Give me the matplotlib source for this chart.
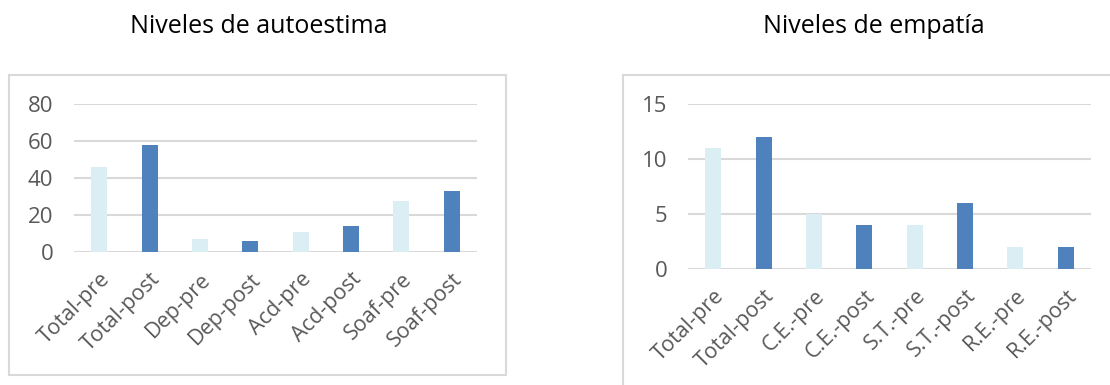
import matplotlib
matplotlib.use("Agg")
import matplotlib.pyplot as plt
from matplotlib.patches import Rectangle

# Data
autoestima_labels = ["Total-pre", "Total-post", "Dep-pre", "Dep-post",
                     "Acd-pre", "Acd-post", "Soaf-pre", "Soaf-post"]
autoestima_values = [46, 58, 7, 6, 11, 14, 28, 33]

empatia_labels = ["Total-pre", "Total-post", "C.E.-pre", "C.E.-post",
                  "S.T.-pre", "S.T.-post", "R.E.-pre", "R.E.-post"]
empatia_values = [11, 12, 5, 4, 4, 6, 2, 2]

autoestima_ticks = [0, 20, 40, 60, 80]
empatia_ticks = [0, 5, 10, 15]

LIGHT = "#DAEEF3"
DARK = "#4F81BD"
GRID = "#D9D9D9"
TEXT = "#595959"

plt.rcParams["font.family"] = ["Open Sans", "DejaVu Sans"]

W, H = 1110, 385
fig = plt.figure(figsize=(W / 100, H / 100), dpi=100)


def px_rect(x0, y0, x1, y1):
    """Convert pixel box (top-left origin) into figure-fraction rect."""
    return [x0 / W, 1 - y1 / H, (x1 - x0) / W, (y1 - y0) / H]


# Chart frames
fig.patches.append(Rectangle((9 / W, 1 - 375 / H), 497 / W, 300 / H,
                             transform=fig.transFigure, fill=False,
                             edgecolor=GRID, linewidth=1.5))
fig.patches.append(Rectangle((623 / W, -0.2), 600 / W, 1.2 - 75 / H,
                             transform=fig.transFigure, fill=False,
                             edgecolor=GRID, linewidth=1.5))


def draw(rect, labels, values, ticks, title, title_x):
    ax = fig.add_axes(rect)
    x = list(range(len(labels)))
    colors = [LIGHT if i % 2 == 0 else DARK for i in x]
    ax.bar(x, values, width=0.32, color=colors, zorder=3)
    ax.set_xlim(-0.5, len(labels) - 0.5)
    ax.set_ylim(ticks[0], ticks[-1])
    ax.set_yticks(ticks)
    ax.set_yticklabels([str(t) for t in ticks], color=TEXT, fontsize=16)
    ax.set_xticks(x)
    ax.set_xticklabels(labels, rotation=45, ha="right",
                       rotation_mode="anchor", color=TEXT, fontsize=15.5)
    ax.tick_params(axis="y", length=0, pad=15)
    ax.tick_params(axis="x", length=0, pad=12)
    for s in ax.spines.values():
        s.set_visible(False)
    ax.grid(axis="y", color=GRID, linewidth=1.5, zorder=0)
    ax.set_axisbelow(True)
    ax.patch.set_alpha(0)
    for t in ax.get_yticklabels() + ax.get_xticklabels():
        t.set_clip_on(False)
    fig.text(title_x / W, 1 - 33 / H, title, ha="center", va="baseline",
             fontsize=18, color="black")
    return ax


draw(px_rect(74, 104.3, 477, 252.3), autoestima_labels, autoestima_values,
     autoestima_ticks, "Niveles de autoestima", 259)
draw(px_rect(688, 104.3, 1091, 268.7), empatia_labels, empatia_values,
     empatia_ticks, "Niveles de empatía", 874)

fig.savefig("out.png", dpi=100)
